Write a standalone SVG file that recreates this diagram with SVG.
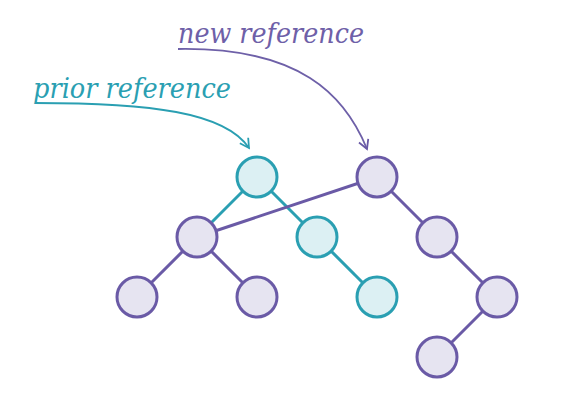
<svg xmlns="http://www.w3.org/2000/svg" width="561" height="419" viewBox="0 0 561 419">
<defs>
<style>
.p{fill:#e6e4f1;stroke:#6a5aa6;stroke-width:3}
.t{fill:#dcf0f3;stroke:#2a9fb2;stroke-width:3}
.ep{stroke:#6a5aa6;stroke-width:3;fill:none}
.et{stroke:#2a9fb2;stroke-width:3;fill:none}
.lbl{font-family:"DejaVu Serif","Liberation Serif",serif;font-style:italic;font-size:28px}
</style>
<marker id="ap" viewBox="0 0 12 12" refX="10" refY="6" markerWidth="12" markerHeight="12" markerUnits="userSpaceOnUse" orient="auto"><path d="M1,1 L10,6 L1,11" fill="none" stroke="#6a5aa6" stroke-width="1.8"/></marker>
<marker id="at" viewBox="0 0 12 12" refX="10" refY="6" markerWidth="12" markerHeight="12" markerUnits="userSpaceOnUse" orient="auto"><path d="M1,1 L10,6 L1,11" fill="none" stroke="#2a9fb2" stroke-width="1.8"/></marker>
</defs>
<rect width="561" height="419" fill="#ffffff"/>
<g id="labels">
<text class="lbl" x="178" y="43" fill="#6e60a8" textLength="186" lengthAdjust="spacingAndGlyphs">new reference</text>
<text class="lbl" x="33" y="98" fill="#2a9fb2" textLength="198" lengthAdjust="spacingAndGlyphs">prior reference</text>
</g>
<g id="connectors">
<path d="M178,49 C300,47 345,95 367,149" stroke="#6e60a8" stroke-width="1.8" fill="none" marker-end="url(#ap)"/>
<path d="M35,103 C150,103 225,112 249,148" stroke="#2a9fb2" stroke-width="1.8" fill="none" marker-end="url(#at)"/>
<line class="et" x1="257" y1="177" x2="197" y2="237"/>
<line class="et" x1="257" y1="177" x2="317" y2="237"/>
<line class="et" x1="317" y1="237" x2="377" y2="297"/>
<line class="ep" x1="377" y1="177" x2="197" y2="237"/>
<line class="ep" x1="197" y1="237" x2="137" y2="297"/>
<line class="ep" x1="197" y1="237" x2="257" y2="297"/>
<line class="ep" x1="377" y1="177" x2="437" y2="237"/>
<line class="ep" x1="437" y1="237" x2="497" y2="297"/>
<line class="ep" x1="497" y1="297" x2="437" y2="357"/>
</g>
<g id="n_prior_root"><circle class="t" cx="257" cy="177" r="20"/></g>
<g id="n_prior_r"><circle class="t" cx="317" cy="237" r="20"/></g>
<g id="n_prior_rr"><circle class="t" cx="377" cy="297" r="20"/></g>
<g id="n_new_root"><circle class="p" cx="377" cy="177" r="20"/></g>
<g id="n_l"><circle class="p" cx="197" cy="237" r="20"/></g>
<g id="n_ll"><circle class="p" cx="137" cy="297" r="20"/></g>
<g id="n_lr"><circle class="p" cx="257" cy="297" r="20"/></g>
<g id="n_r"><circle class="p" cx="437" cy="237" r="20"/></g>
<g id="n_rr"><circle class="p" cx="497" cy="297" r="20"/></g>
<g id="n_rrl"><circle class="p" cx="437" cy="357" r="20"/></g>
</svg>
